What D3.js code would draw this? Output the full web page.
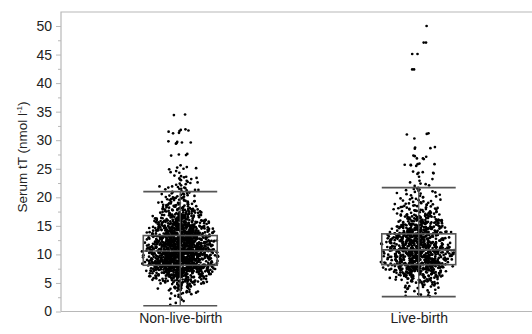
<!DOCTYPE html>
<html>
<head>
<meta charset="utf-8">
<script src="https://cdn.jsdelivr.net/npm/d3@7"></script>
<style>
  body { margin: 0; background: #fff; }
  svg { display: block; font-family: "Liberation Sans", Arial, sans-serif; }
</style>
</head>
<body>
<svg id="chart" width="532" height="334"></svg>
<script>
// categories and box statistics
const categories = ["Non-live-birth", "Live-birth"];
const whiskerLow = [1.0, 2.6];
const q1 = [8.1, 8.2];
const median = [10.6, 10.8];
const q3 = [13.3, 13.6];
const whiskerHigh = [21.0, 21.7];

// estimated number of points per 1 nmol/l bin (bin lower edges below)
const binLows = [0, 1, 2, 3, 4, 5, 6, 7, 8, 9, 10, 11, 12, 13, 14, 15, 16, 17, 18, 19, 20, 21];
const nonLiveCounts = [0, 3, 6, 15, 28, 52, 98, 160, 170, 170, 168, 160, 150, 135, 110, 85, 62, 44, 30, 22, 15, 0];
const liveCounts = [0, 0, 4, 8, 15, 30, 56, 90, 100, 100, 100, 96, 90, 82, 68, 54, 38, 27, 19, 13, 10, 7];

// points above the upper whisker
const nonLiveHigh = [34.5, 34.4, 31.9, 31.7, 31.5, 31.3, 31.2, 31.6, 31.8, 29.8, 29.6, 29.5, 29.6, 29.7, 29.4,
  27.5, 27.4, 27.3, 27.6, 25.6, 25.2, 25.1, 25.0, 24.9, 25.3, 24.4, 24.3, 24.6, 23.7, 23.5, 23.4, 23.6, 23.3,
  23.8, 23.1, 23.0, 22.9, 23.2, 22.7, 22.5, 22.4, 22.6, 22.3, 22.2, 22.1, 21.9, 21.8, 21.7, 21.6, 21.5, 21.4,
  21.3, 21.2, 21.1, 21.9, 21.7, 21.5, 21.3];
const liveHigh = [50.0, 47.1, 47.1, 45.1, 45.1, 42.4, 42.4, 31.2, 31.1, 31.0, 30.3, 28.7, 28.6, 28.8, 28.5,
  27.2, 27.3, 27.1, 26.8, 26.8, 26.7, 25.8, 25.7, 25.9, 25.6, 25.8, 25.7, 25.5, 24.3, 24.4, 24.2, 24.3, 24.5,
  24.1, 23.6, 23.2, 22.9, 22.6, 22.4, 22.3, 22.1, 22.0];

const yTicks = [0, 5, 10, 15, 20, 25, 30, 35, 40, 45, 50];
const yMinorTicks = [2.5, 7.5, 12.5, 17.5, 22.5, 27.5, 32.5, 37.5, 42.5, 47.5];

const groupCounts = [nonLiveCounts, liveCounts];
const groupHigh = [nonLiveHigh, liveHigh];

const W = 532;
const plotLeft = 61, plotTop = 12;
const svg = d3.select("#chart");

const y = d3.scaleLinear().domain([0, 50]).range([311.5, 26]);
const x = d3.scalePoint().domain(categories).range([61, 538]).padding(0.5);
const boxW = x.step() * 0.31;
const maxHalf = boxW / 2 + 3;

// deterministic hash for horizontal jitter
function hash(i) {
  let h = Math.imul(i ^ 0x9e3779b9, 0x85ebca6b);
  h ^= h >>> 13;
  h = Math.imul(h, 0xc2b2ae35);
  h ^= h >>> 16;
  return (h >>> 0) / 4294967296;
}

// frame
svg.append("path")
  .attr("d", `M${plotLeft},${y(0)}V${plotTop}H${W + 5}`)
  .attr("fill", "none").attr("stroke", "#b8b8b8").attr("stroke-width", 1.2);
svg.append("line")
  .attr("x1", plotLeft).attr("x2", W + 5).attr("y1", y(0)).attr("y2", y(0))
  .attr("stroke", "#b8b8b8").attr("stroke-width", 1.2);

// jittered points: values spread evenly inside each bin, width follows density
categories.forEach((cat, gi) => {
  const vals = [];
  groupCounts[gi].forEach((c, b) => {
    const lo = Math.max(binLows[b], whiskerLow[gi]);
    const hi = Math.min(binLows[b] + 1, whiskerHigh[gi]);
    for (let k = 0; k < c; k++) vals.push(lo + (hi - lo) * (k + 0.5) / c);
  });
  groupHigh[gi].forEach(v => vals.push(v));

  const dens = vals.map(v => vals.filter(w => Math.abs(w - v) < 0.75).length);
  const dMax = d3.max(dens);

  const pts = vals.map((v, i) => {
    const g = 0.05 + 0.95 * Math.pow(dens[i] / dMax, 0.25);
    const u1 = hash(i * 2 + gi * 7919 + 1), u2 = hash(i * 2 + gi * 7919 + 2);
    return { v, dx: maxHalf * g * (0.6 * (2 * u1 - 1) + 0.4 * (2 * u2 - 1)) };
  });

  svg.append("g").selectAll("circle")
    .data(pts)
    .join("circle")
    .attr("cx", d => x(cat) + d.dx)
    .attr("cy", d => y(d.v))
    .attr("r", 1.35)
    .attr("fill", "#000");
});

// box plots on top
const box = svg.append("g").attr("stroke", "#555").attr("stroke-width", 1.6).attr("fill", "none");
categories.forEach((cat, i) => {
  const cx = x(cat);
  box.append("line").attr("x1", cx).attr("x2", cx).attr("y1", y(whiskerLow[i])).attr("y2", y(whiskerHigh[i]))
    .attr("stroke-width", 1.3);
  [whiskerLow[i], whiskerHigh[i]].forEach(v => {
    box.append("line").attr("x1", cx - boxW / 2).attr("x2", cx + boxW / 2).attr("y1", y(v)).attr("y2", y(v));
  });
  box.append("rect").attr("x", cx - boxW / 2).attr("width", boxW)
    .attr("y", y(q3[i])).attr("height", y(q1[i]) - y(q3[i]));
  box.append("line").attr("x1", cx - boxW / 2).attr("x2", cx + boxW / 2)
    .attr("y1", y(median[i])).attr("y2", y(median[i]));
});

// y axis
const yAxis = svg.append("g").attr("transform", `translate(${plotLeft},0)`)
  .call(d3.axisLeft(y).tickValues(yTicks).tickSize(5).tickPadding(4));
svg.append("g").attr("transform", `translate(${plotLeft},0)`)
  .call(d3.axisLeft(y).tickValues(yMinorTicks).tickSize(3).tickFormat(""))
  .call(g => g.select(".domain").remove())
  .selectAll("line").attr("stroke", "#b8b8b8");
yAxis.select(".domain").remove();
yAxis.selectAll("line").attr("stroke", "#b8b8b8");
yAxis.selectAll("text").attr("font-size", 14).attr("fill", "#222").attr("font-family", "Liberation Sans, Arial, sans-serif");

// x axis labels
const xAxis = svg.append("g").attr("transform", `translate(0,${y(0)})`)
  .call(d3.axisBottom(x).tickSize(0).tickPadding(2));
xAxis.select(".domain").remove();
xAxis.selectAll("text").attr("font-size", 14).attr("fill", "#222").attr("font-family", "Liberation Sans, Arial, sans-serif");

// y title
const title = svg.append("text")
  .attr("transform", "translate(27,157) rotate(-90)")
  .attr("text-anchor", "middle")
  .attr("font-size", 13.5)
  .attr("fill", "#222");
title.append("tspan").text("Serum tT (nmol l");
title.append("tspan").attr("font-size", 8).attr("dy", -5).text("-1");
title.append("tspan").attr("dy", 5).text(")");
</script>
</body>
</html>
